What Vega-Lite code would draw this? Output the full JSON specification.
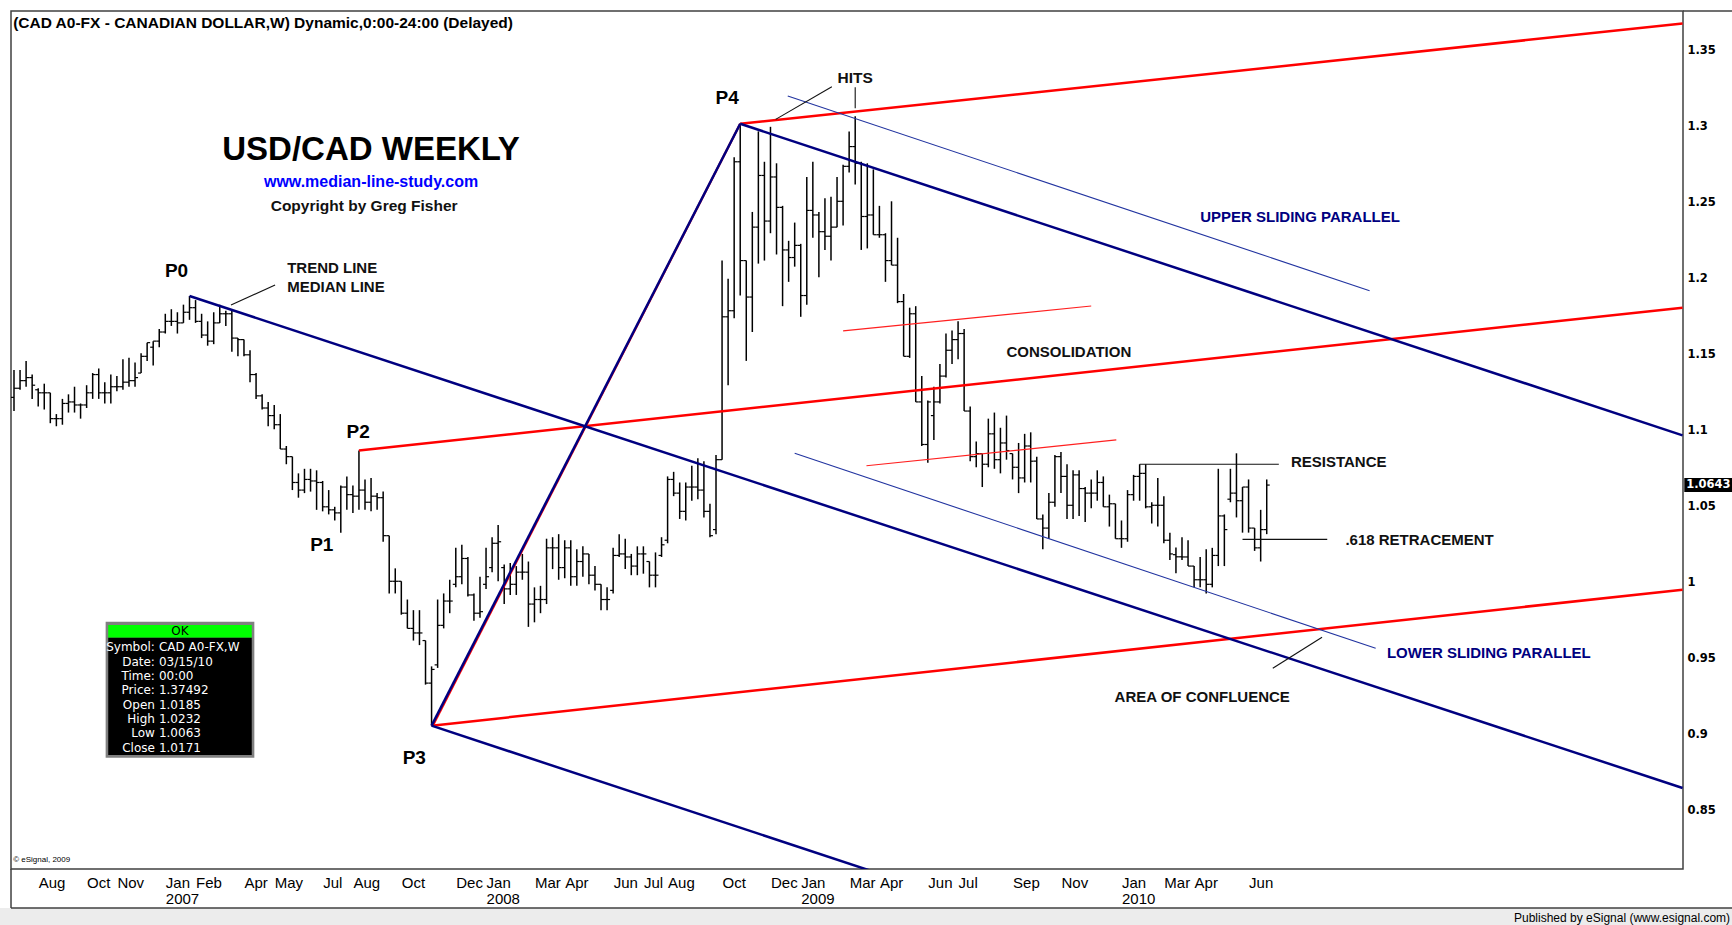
{
"$schema": "https://vega.github.io/schema/vega-lite/v6.json",
"width": 1672,
"height": 858,
"autosize": {"type": "none"},
"padding": {"left": 11, "top": 11, "right": 49, "bottom": 56},
"background": "#ffffff",
"config": {"view": {"stroke": "#404040", "strokeWidth": 1.5}, "font": "Liberation Sans"},
"datasets": {
"bars": [
{"d":"2006-07-10","o":1.122,"h":1.140,"l":1.113,"c":1.128},
{"d":"2006-07-17","o":1.128,"h":1.140,"l":1.127,"c":1.133},
{"d":"2006-07-24","o":1.133,"h":1.146,"l":1.129,"c":1.135},
{"d":"2006-07-31","o":1.135,"h":1.137,"l":1.121,"c":1.130},
{"d":"2006-08-07","o":1.127,"h":1.128,"l":1.116,"c":1.125},
{"d":"2006-08-14","o":1.125,"h":1.131,"l":1.114,"c":1.125},
{"d":"2006-08-21","o":1.125,"h":1.125,"l":1.105,"c":1.108},
{"d":"2006-08-28","o":1.108,"h":1.111,"l":1.103,"c":1.108},
{"d":"2006-09-04","o":1.108,"h":1.121,"l":1.104,"c":1.118},
{"d":"2006-09-11","o":1.118,"h":1.124,"l":1.112,"c":1.119},
{"d":"2006-09-18","o":1.119,"h":1.129,"l":1.112,"c":1.117},
{"d":"2006-09-25","o":1.117,"h":1.118,"l":1.108,"c":1.117},
{"d":"2006-10-02","o":1.117,"h":1.130,"l":1.115,"c":1.125},
{"d":"2006-10-09","o":1.125,"h":1.138,"l":1.121,"c":1.137},
{"d":"2006-10-16","o":1.137,"h":1.141,"l":1.121,"c":1.125},
{"d":"2006-10-23","o":1.125,"h":1.132,"l":1.118,"c":1.125},
{"d":"2006-10-30","o":1.125,"h":1.137,"l":1.118,"c":1.129},
{"d":"2006-11-06","o":1.129,"h":1.136,"l":1.126,"c":1.129},
{"d":"2006-11-13","o":1.129,"h":1.147,"l":1.127,"c":1.132},
{"d":"2006-11-20","o":1.132,"h":1.148,"l":1.129,"c":1.133},
{"d":"2006-11-27","o":1.133,"h":1.145,"l":1.129,"c":1.135},
{"d":"2006-12-04","o":1.138,"h":1.151,"l":1.138,"c":1.149},
{"d":"2006-12-11","o":1.149,"h":1.158,"l":1.146,"c":1.158},
{"d":"2006-12-18","o":1.155,"h":1.159,"l":1.143,"c":1.159},
{"d":"2006-12-25","o":1.159,"h":1.167,"l":1.155,"c":1.165},
{"d":"2007-01-01","o":1.165,"h":1.177,"l":1.164,"c":1.172},
{"d":"2007-01-08","o":1.172,"h":1.180,"l":1.169,"c":1.172},
{"d":"2007-01-15","o":1.172,"h":1.178,"l":1.164,"c":1.171},
{"d":"2007-01-22","o":1.171,"h":1.183,"l":1.171,"c":1.178},
{"d":"2007-01-29","o":1.178,"h":1.1887,"l":1.173,"c":1.181},
{"d":"2007-02-05","o":1.181,"h":1.186,"l":1.171,"c":1.172},
{"d":"2007-02-12","o":1.172,"h":1.177,"l":1.161,"c":1.163},
{"d":"2007-02-19","o":1.163,"h":1.172,"l":1.156,"c":1.159},
{"d":"2007-02-26","o":1.159,"h":1.178,"l":1.157,"c":1.171},
{"d":"2007-03-05","o":1.171,"h":1.183,"l":1.171,"c":1.177},
{"d":"2007-03-12","o":1.177,"h":1.179,"l":1.169,"c":1.177},
{"d":"2007-03-19","o":1.177,"h":1.179,"l":1.152,"c":1.161},
{"d":"2007-03-26","o":1.161,"h":1.161,"l":1.149,"c":1.160},
{"d":"2007-04-02","o":1.160,"h":1.160,"l":1.149,"c":1.150},
{"d":"2007-04-09","o":1.150,"h":1.153,"l":1.132,"c":1.137},
{"d":"2007-04-16","o":1.137,"h":1.138,"l":1.121,"c":1.123},
{"d":"2007-04-23","o":1.123,"h":1.124,"l":1.114,"c":1.115},
{"d":"2007-04-30","o":1.115,"h":1.119,"l":1.103,"c":1.110},
{"d":"2007-05-07","o":1.110,"h":1.117,"l":1.101,"c":1.104},
{"d":"2007-05-14","o":1.104,"h":1.111,"l":1.088,"c":1.088},
{"d":"2007-05-21","o":1.088,"h":1.090,"l":1.078,"c":1.083},
{"d":"2007-05-28","o":1.083,"h":1.083,"l":1.061,"c":1.066},
{"d":"2007-06-04","o":1.066,"h":1.072,"l":1.056,"c":1.061},
{"d":"2007-06-11","o":1.061,"h":1.075,"l":1.059,"c":1.068},
{"d":"2007-06-18","o":1.068,"h":1.075,"l":1.060,"c":1.067},
{"d":"2007-06-25","o":1.067,"h":1.074,"l":1.048,"c":1.066},
{"d":"2007-07-02","o":1.066,"h":1.067,"l":1.047,"c":1.050},
{"d":"2007-07-09","o":1.050,"h":1.061,"l":1.045,"c":1.048},
{"d":"2007-07-16","o":1.048,"h":1.050,"l":1.041,"c":1.046},
{"d":"2007-07-23","o":1.046,"h":1.064,"l":1.033,"c":1.063},
{"d":"2007-07-30","o":1.063,"h":1.070,"l":1.048,"c":1.058},
{"d":"2007-08-06","o":1.058,"h":1.064,"l":1.046,"c":1.057},
{"d":"2007-08-13","o":1.057,"h":1.087,"l":1.048,"c":1.061},
{"d":"2007-08-20","o":1.061,"h":1.068,"l":1.048,"c":1.053},
{"d":"2007-08-27","o":1.053,"h":1.069,"l":1.047,"c":1.057},
{"d":"2007-09-03","o":1.057,"h":1.059,"l":1.048,"c":1.056},
{"d":"2007-09-10","o":1.056,"h":1.060,"l":1.027,"c":1.031},
{"d":"2007-09-17","o":1.031,"h":1.031,"l":0.993,"c":1.001},
{"d":"2007-09-24","o":1.001,"h":1.0095,"l":0.993,"c":1.001},
{"d":"2007-10-01","o":1.001,"h":1.001,"l":0.979,"c":0.980},
{"d":"2007-10-08","o":0.980,"h":0.989,"l":0.970,"c":0.970},
{"d":"2007-10-15","o":0.970,"h":0.982,"l":0.962,"c":0.967},
{"d":"2007-10-22","o":0.967,"h":0.982,"l":0.959,"c":0.967},
{"d":"2007-10-29","o":0.962,"h":0.962,"l":0.933,"c":0.934},
{"d":"2007-11-05","o":0.934,"h":0.945,"l":0.906,"c":0.943},
{"d":"2007-11-12","o":0.946,"h":0.989,"l":0.944,"c":0.972},
{"d":"2007-11-19","o":0.972,"h":0.993,"l":0.970,"c":0.988},
{"d":"2007-11-26","o":0.988,"h":1.002,"l":0.980,"c":0.988},
{"d":"2007-12-03","o":0.999,"h":1.023,"l":0.997,"c":1.004},
{"d":"2007-12-10","o":1.004,"h":1.025,"l":0.999,"c":1.016},
{"d":"2007-12-17","o":1.016,"h":1.017,"l":0.991,"c":0.992},
{"d":"2007-12-24","o":0.992,"h":0.993,"l":0.975,"c":0.980},
{"d":"2007-12-31","o":0.980,"h":1.004,"l":0.977,"c":0.981},
{"d":"2008-01-07","o":0.999,"h":1.023,"l":0.996,"c":1.004},
{"d":"2008-01-14","o":1.010,"h":1.030,"l":1.007,"c":1.026},
{"d":"2008-01-21","o":1.026,"h":1.038,"l":1.001,"c":1.027},
{"d":"2008-01-28","o":1.010,"h":1.012,"l":0.986,"c":0.996},
{"d":"2008-02-04","o":0.996,"h":1.013,"l":0.992,"c":0.999},
{"d":"2008-02-11","o":0.999,"h":1.011,"l":0.992,"c":1.007},
{"d":"2008-02-18","o":1.007,"h":1.019,"l":1.002,"c":1.007},
{"d":"2008-02-25","o":1.007,"h":1.014,"l":0.971,"c":0.986},
{"d":"2008-03-03","o":0.986,"h":0.997,"l":0.974,"c":0.989},
{"d":"2008-03-10","o":0.989,"h":0.998,"l":0.980,"c":0.989},
{"d":"2008-03-17","o":0.989,"h":1.029,"l":0.986,"c":1.023},
{"d":"2008-03-24","o":1.023,"h":1.030,"l":1.009,"c":1.023},
{"d":"2008-03-31","o":1.023,"h":1.032,"l":1.002,"c":1.010},
{"d":"2008-04-07","o":1.010,"h":1.028,"l":1.003,"c":1.023},
{"d":"2008-04-14","o":1.023,"h":1.028,"l":0.998,"c":1.004},
{"d":"2008-04-21","o":1.004,"h":1.022,"l":0.998,"c":1.014},
{"d":"2008-04-28","o":1.014,"h":1.024,"l":1.004,"c":1.019},
{"d":"2008-05-05","o":1.019,"h":1.019,"l":0.999,"c":1.005},
{"d":"2008-05-12","o":1.005,"h":1.011,"l":0.995,"c":0.999},
{"d":"2008-05-19","o":0.999,"h":0.999,"l":0.982,"c":0.989},
{"d":"2008-05-26","o":0.989,"h":0.997,"l":0.982,"c":0.989},
{"d":"2008-06-02","o":0.995,"h":1.023,"l":0.993,"c":1.018},
{"d":"2008-06-09","o":1.018,"h":1.032,"l":1.017,"c":1.019},
{"d":"2008-06-16","o":1.019,"h":1.029,"l":1.009,"c":1.017},
{"d":"2008-06-23","o":1.017,"h":1.019,"l":1.005,"c":1.011},
{"d":"2008-06-30","o":1.011,"h":1.024,"l":1.005,"c":1.019},
{"d":"2008-07-07","o":1.019,"h":1.024,"l":1.006,"c":1.019},
{"d":"2008-07-14","o":1.014,"h":1.014,"l":0.997,"c":1.005},
{"d":"2008-07-21","o":1.005,"h":1.020,"l":0.997,"c":1.005},
{"d":"2008-07-28","o":1.018,"h":1.030,"l":1.017,"c":1.025},
{"d":"2008-08-04","o":1.028,"h":1.070,"l":1.026,"c":1.068},
{"d":"2008-08-11","o":1.068,"h":1.073,"l":1.057,"c":1.059},
{"d":"2008-08-18","o":1.059,"h":1.066,"l":1.042,"c":1.047},
{"d":"2008-08-25","o":1.047,"h":1.066,"l":1.041,"c":1.063},
{"d":"2008-09-01","o":1.063,"h":1.077,"l":1.054,"c":1.063},
{"d":"2008-09-08","o":1.063,"h":1.082,"l":1.055,"c":1.061},
{"d":"2008-09-15","o":1.061,"h":1.080,"l":1.043,"c":1.047},
{"d":"2008-09-22","o":1.047,"h":1.052,"l":1.030,"c":1.031},
{"d":"2008-09-29","o":1.035,"h":1.084,"l":1.032,"c":1.081},
{"d":"2008-10-06","o":1.081,"h":1.212,"l":1.081,"c":1.175},
{"d":"2008-10-13","o":1.175,"h":1.200,"l":1.130,"c":1.179},
{"d":"2008-10-20","o":1.179,"h":1.280,"l":1.174,"c":1.277},
{"d":"2008-10-27","o":1.277,"h":1.302,"l":1.189,"c":1.212},
{"d":"2008-11-03","o":1.212,"h":1.212,"l":1.146,"c":1.188},
{"d":"2008-11-10","o":1.188,"h":1.244,"l":1.165,"c":1.234},
{"d":"2008-11-17","o":1.234,"h":1.297,"l":1.210,"c":1.268},
{"d":"2008-11-24","o":1.268,"h":1.277,"l":1.212,"c":1.238},
{"d":"2008-12-01","o":1.238,"h":1.300,"l":1.230,"c":1.267},
{"d":"2008-12-08","o":1.267,"h":1.276,"l":1.216,"c":1.247},
{"d":"2008-12-15","o":1.247,"h":1.248,"l":1.182,"c":1.219},
{"d":"2008-12-22","o":1.219,"h":1.225,"l":1.198,"c":1.214},
{"d":"2008-12-29","o":1.214,"h":1.237,"l":1.208,"c":1.222},
{"d":"2009-01-05","o":1.222,"h":1.223,"l":1.175,"c":1.189},
{"d":"2009-01-12","o":1.189,"h":1.267,"l":1.183,"c":1.245},
{"d":"2009-01-19","o":1.245,"h":1.277,"l":1.227,"c":1.242},
{"d":"2009-01-26","o":1.242,"h":1.244,"l":1.201,"c":1.231},
{"d":"2009-02-02","o":1.231,"h":1.253,"l":1.219,"c":1.228},
{"d":"2009-02-09","o":1.228,"h":1.254,"l":1.212,"c":1.234},
{"d":"2009-02-16","o":1.234,"h":1.267,"l":1.234,"c":1.251},
{"d":"2009-02-23","o":1.251,"h":1.275,"l":1.235,"c":1.274},
{"d":"2009-03-02","o":1.274,"h":1.297,"l":1.270,"c":1.287},
{"d":"2009-03-09","o":1.287,"h":1.307,"l":1.262,"c":1.276},
{"d":"2009-03-16","o":1.276,"h":1.277,"l":1.219,"c":1.241},
{"d":"2009-03-23","o":1.241,"h":1.276,"l":1.220,"c":1.242},
{"d":"2009-03-30","o":1.242,"h":1.272,"l":1.229,"c":1.229},
{"d":"2009-04-06","o":1.229,"h":1.248,"l":1.227,"c":1.229},
{"d":"2009-04-13","o":1.229,"h":1.230,"l":1.198,"c":1.212},
{"d":"2009-04-20","o":1.212,"h":1.251,"l":1.209,"c":1.209},
{"d":"2009-04-27","o":1.209,"h":1.227,"l":1.184,"c":1.185},
{"d":"2009-05-04","o":1.185,"h":1.190,"l":1.149,"c":1.149},
{"d":"2009-05-11","o":1.149,"h":1.181,"l":1.148,"c":1.177},
{"d":"2009-05-18","o":1.177,"h":1.182,"l":1.119,"c":1.119},
{"d":"2009-05-25","o":1.119,"h":1.136,"l":1.090,"c":1.091},
{"d":"2009-06-01","o":1.091,"h":1.120,"l":1.079,"c":1.119},
{"d":"2009-06-08","o":1.110,"h":1.129,"l":1.094,"c":1.119},
{"d":"2009-06-15","o":1.119,"h":1.144,"l":1.118,"c":1.136},
{"d":"2009-06-22","o":1.136,"h":1.164,"l":1.135,"c":1.153},
{"d":"2009-06-29","o":1.153,"h":1.166,"l":1.144,"c":1.160},
{"d":"2009-07-06","o":1.160,"h":1.172,"l":1.147,"c":1.164},
{"d":"2009-07-13","o":1.164,"h":1.167,"l":1.113,"c":1.113},
{"d":"2009-07-20","o":1.113,"h":1.116,"l":1.080,"c":1.083},
{"d":"2009-07-27","o":1.083,"h":1.093,"l":1.076,"c":1.085},
{"d":"2009-08-03","o":1.085,"h":1.085,"l":1.063,"c":1.078},
{"d":"2009-08-10","o":1.078,"h":1.108,"l":1.076,"c":1.098},
{"d":"2009-08-17","o":1.098,"h":1.112,"l":1.075,"c":1.081},
{"d":"2009-08-24","o":1.081,"h":1.102,"l":1.072,"c":1.092},
{"d":"2009-08-31","o":1.092,"h":1.110,"l":1.081,"c":1.087},
{"d":"2009-09-07","o":1.085,"h":1.085,"l":1.068,"c":1.076},
{"d":"2009-09-14","o":1.076,"h":1.092,"l":1.059,"c":1.069},
{"d":"2009-09-21","o":1.069,"h":1.098,"l":1.066,"c":1.090},
{"d":"2009-09-28","o":1.090,"h":1.099,"l":1.066,"c":1.080},
{"d":"2009-10-05","o":1.080,"h":1.083,"l":1.042,"c":1.042},
{"d":"2009-10-12","o":1.042,"h":1.045,"l":1.022,"c":1.036},
{"d":"2009-10-19","o":1.036,"h":1.059,"l":1.029,"c":1.053},
{"d":"2009-10-26","o":1.053,"h":1.084,"l":1.050,"c":1.083},
{"d":"2009-11-02","o":1.083,"h":1.086,"l":1.059,"c":1.070},
{"d":"2009-11-09","o":1.070,"h":1.078,"l":1.042,"c":1.051},
{"d":"2009-11-16","o":1.051,"h":1.074,"l":1.042,"c":1.071},
{"d":"2009-11-23","o":1.071,"h":1.074,"l":1.044,"c":1.062},
{"d":"2009-11-30","o":1.062,"h":1.063,"l":1.040,"c":1.059},
{"d":"2009-12-07","o":1.059,"h":1.068,"l":1.049,"c":1.059},
{"d":"2009-12-14","o":1.059,"h":1.074,"l":1.054,"c":1.066},
{"d":"2009-12-21","o":1.066,"h":1.070,"l":1.050,"c":1.050},
{"d":"2009-12-28","o":1.050,"h":1.058,"l":1.037,"c":1.052},
{"d":"2010-01-04","o":1.052,"h":1.052,"l":1.029,"c":1.029},
{"d":"2010-01-11","o":1.029,"h":1.041,"l":1.023,"c":1.029},
{"d":"2010-01-18","o":1.029,"h":1.061,"l":1.027,"c":1.058},
{"d":"2010-01-25","o":1.058,"h":1.071,"l":1.054,"c":1.070},
{"d":"2010-02-01","o":1.070,"h":1.078,"l":1.054,"c":1.072},
{"d":"2010-02-08","o":1.072,"h":1.078,"l":1.049,"c":1.050},
{"d":"2010-02-15","o":1.050,"h":1.053,"l":1.039,"c":1.051},
{"d":"2010-02-22","o":1.051,"h":1.069,"l":1.037,"c":1.051},
{"d":"2010-03-01","o":1.051,"h":1.057,"l":1.026,"c":1.028},
{"d":"2010-03-08","o":1.028,"h":1.033,"l":1.015,"c":1.019},
{"d":"2010-03-15","o":1.0185,"h":1.0232,"l":1.0063,"c":1.0171},
{"d":"2010-03-22","o":1.0171,"h":1.030,"l":1.015,"c":1.017},
{"d":"2010-03-29","o":1.017,"h":1.028,"l":1.011,"c":1.011},
{"d":"2010-04-05","o":1.011,"h":1.011,"l":0.997,"c":1.002},
{"d":"2010-04-12","o":1.002,"h":1.017,"l":0.997,"c":1.002},
{"d":"2010-04-19","o":1.002,"h":1.022,"l":0.993,"c":0.999},
{"d":"2010-04-26","o":0.999,"h":1.023,"l":0.997,"c":1.018},
{"d":"2010-05-03","o":1.018,"h":1.075,"l":1.011,"c":1.044},
{"d":"2010-05-10","o":1.044,"h":1.045,"l":1.011,"c":1.035},
{"d":"2010-05-17","o":1.055,"h":1.075,"l":1.053,"c":1.059},
{"d":"2010-05-24","o":1.059,"h":1.0852,"l":1.043,"c":1.054},
{"d":"2010-05-31","o":1.054,"h":1.063,"l":1.033,"c":1.063},
{"d":"2010-06-07","o":1.063,"h":1.068,"l":1.033,"c":1.036},
{"d":"2010-06-14","o":1.036,"h":1.036,"l":1.021,"c":1.023},
{"d":"2010-06-21","o":1.023,"h":1.048,"l":1.014,"c":1.035},
{"d":"2010-06-28","o":1.035,"h":1.068,"l":1.032,"c":1.0643}
],
"lines": [
{"t":"rp","d":"2007-11-05","p":0.906,"d2":"2008-10-27","p2":1.302},
{"t":"rd","d":"2007-08-13","p":1.087,"d2":"2011-10-22","p2":1.181},
{"t":"rd","d":"2008-10-27","p":1.302,"d2":"2011-10-22","p2":1.368},
{"t":"rd","d":"2007-11-05","p":0.906,"d2":"2011-10-22","p2":0.9955},
{"t":"nv","d":"2007-01-29","p":1.1887,"d2":"2011-10-22","p2":0.865},
{"t":"nv","d":"2008-10-27","p":1.302,"d2":"2011-10-22","p2":1.097},
{"t":"nv","d":"2007-11-05","p":0.906,"d2":"2011-10-22","p2":0.634},
{"t":"nv","d":"2007-11-05","p":0.906,"d2":"2008-10-27","p2":1.302},
{"t":"rt","d":"2009-02-23","p":1.1657,"d2":"2009-12-07","p2":1.1821},
{"t":"rt","d":"2009-03-22","p":1.077,"d2":"2010-01-05","p2":1.094},
{"t":"bt","d":"2008-12-21","p":1.3203,"d2":"2010-10-25","p2":1.1922},
{"t":"bt","d":"2008-12-29","p":1.0852,"d2":"2010-11-01","p2":0.9569},
{"t":"bk","d":"2010-02-01","p":1.078,"d2":"2010-07-12","p2":1.078},
{"t":"bk","d":"2010-05-31","p":1.0286,"d2":"2010-09-06","p2":1.0286},
{"t":"bk","d":"2007-03-18","p":1.1828,"d2":"2007-05-08","p2":1.1959},
{"t":"bk","d":"2008-12-07","p":1.3049,"d2":"2009-02-10","p2":1.3264},
{"t":"bk","d":"2009-03-09","p":1.3122,"d2":"2009-03-09","p2":1.326},
{"t":"bk","d":"2010-07-05","p":0.94375,"d2":"2010-08-31","p2":0.96414}
],
"deco": [
{"k":"strip","d":"2006-06-01","d2":"2012-01-01","p":0.78605,"p2":0.75},
{"k":"frame","d":"2006-07-06T13:00:00Z","d2":"2012-01-01","p":0.78605,"p2":0.78605},
{"k":"frame","d":"2006-07-06T13:00:00Z","d2":"2006-07-06T13:00:00Z","p":0.8117,"p2":0.78605},
{"k":"frame","d":"2011-10-22T12:00:00Z","d2":"2012-01-01","p":1.3762,"p2":1.3762},
{"k":"boxgray","d":"2006-10-24","d2":"2007-04-14","p":0.97441,"p2":0.88493},
{"k":"boxgreen","d":"2006-10-27","d2":"2007-04-11","p":0.97224,"p2":0.96388},
{"k":"boxblack","d":"2006-10-27","d2":"2007-04-11","p":0.96388,"p2":0.88671},
{"k":"tag","d":"2011-10-24","d2":"2012-01-01","p":1.0689,"p2":1.0597}
],
"labels": [
{"g":"hdr","d":"2006-07-09","p":1.3681,"txt":"(CAD A0-FX - CANADIAN DOLLAR,W) Dynamic,0:00-24:00 (Delayed)"},
{"g":"big","d":"2007-08-27","p":1.2847,"txt":"USD/CAD WEEKLY"},
{"g":"url","d":"2007-08-27","p":1.2637,"txt":"www.median-line-study.com"},
{"g":"cen","d":"2007-08-19","p":1.2479,"txt":"Copyright by Greg Fisher"},
{"g":"pt","d":"2007-01-14","p":1.2051,"txt":"P0"},
{"g":"pt","d":"2007-07-01","p":1.0251,"txt":"P1"},
{"g":"pt","d":"2007-08-12","p":1.0994,"txt":"P2"},
{"g":"pt","d":"2007-10-16","p":0.8849,"txt":"P3"},
{"g":"pt","d":"2008-10-12","p":1.3191,"txt":"P4"},
{"g":"cen","d":"2009-03-09","p":1.3323,"txt":"HITS"},
{"g":"left","d":"2007-05-22","p":1.2071,"txt":"TREND LINE"},
{"g":"left","d":"2007-05-22","p":1.1946,"txt":"MEDIAN LINE"},
{"g":"left","d":"2009-08-31","p":1.152,"txt":"CONSOLIDATION"},
{"g":"left","d":"2010-07-26","p":1.0797,"txt":"RESISTANCE"},
{"g":"left","d":"2010-09-27","p":1.0282,"txt":".618 RETRACEMENT"},
{"g":"left","d":"2010-01-03","p":0.9251,"txt":"AREA OF CONFLUENCE"},
{"g":"navy","d":"2010-04-12","p":1.2405,"txt":"UPPER SLIDING PARALLEL"},
{"g":"navy","d":"2010-11-14","p":0.954,"txt":"LOWER SLIDING PARALLEL"},
{"g":"small","d":"2006-07-09","p":0.8173,"txt":"© eSignal, 2009"},
{"g":"pub","d":"2011-12-16","p":0.7795,"txt":"Published by eSignal (www.esignal.com)"},
{"g":"ok","d":"2007-01-18","p":0.96829,"txt":"OK"},
{"g":"tag","d":"2011-10-25","p":1.0643,"txt":"1.0643"}
],
"info": [
{"d":"2006-12-20","p":0.95757,"k":"Symbol:","v":"CAD A0-FX,W"},
{"d":"2006-12-20","p":0.94809,"k":"Date:","v":"03/15/10"},
{"d":"2006-12-20","p":0.93868,"k":"Time:","v":"00:00"},
{"d":"2006-12-20","p":0.92928,"k":"Price:","v":"1.37492"},
{"d":"2006-12-20","p":0.91961,"k":"Open","v":"1.0185"},
{"d":"2006-12-20","p":0.9102,"k":"High","v":"1.0232"},
{"d":"2006-12-20","p":0.90099,"k":"Low","v":"1.0063"},
{"d":"2006-12-20","p":0.89112,"k":"Close","v":"1.0171"}
]
},
"encoding": {
 "x": {"field": "d", "type": "temporal",
  "scale": {"type": "utc", "domain": [1152189792000, 1319284800000]},
  "axis": {"title": null, "orient": "bottom",
   "values": [1154908800000, 1159747200000, 1162771200000, 1167609600000, 1170633600000, 1175472000000, 1178496000000, 1183334400000, 1186358400000, 1191196800000, 1196640000000, 1199664000000, 1204502400000, 1207526400000, 1212364800000, 1215388800000, 1217808000000, 1223251200000, 1228089600000, 1231113600000, 1235952000000, 1238976000000, 1243814400000, 1246838400000, 1252281600000, 1257120000000, 1263168000000, 1267401600000, 1270425600000, 1275868800000],
   "labelExpr": "utcmonth(datum.value) == 0 ? [utcFormat(datum.value, '%b'), utcFormat(datum.value, '%Y')] : utcFormat(datum.value, '%b')",
   "labelAlign": "left", "labelBaseline": "top", "labelPadding": 6,
   "labelFont": "Liberation Sans Narrow, Liberation Sans", "labelFontSize": 15, "labelLineHeight": 16, "labelColor": "#000000",
   "labelOverlap": false, "labelBound": false, "labelFlush": false,
   "ticks": false, "domain": false, "grid": false}},
 "y": {"field": "p", "type": "quantitative",
  "scale": {"domain": [0.8117, 1.3762], "nice": false, "zero": false},
  "axis": {"title": null, "orient": "right", "values": [0.85, 0.9, 0.95, 1, 1.05, 1.1, 1.15, 1.2, 1.25, 1.3, 1.35],
   "format": ".2~f",
   "labelFont": "DejaVu Sans", "labelFontWeight": "bold", "labelFontSize": 11.5, "labelColor": "#000000", "labelPadding": 4,
   "ticks": false, "domain": false, "grid": false}}
},
"layer": [
{"data": {"name": "deco", "format": {"parse": {"d": "date", "d2": "date"}}},
 "encoding": {"x2": {"field": "d2"}, "y2": {"field": "p2"}},
 "layer": [
  {"transform": [{"filter": "datum.k == 'strip'"}], "mark": {"type": "rect", "color": "#ececec"}},
  {"transform": [{"filter": "datum.k == 'frame'"}], "mark": {"type": "rule", "color": "#404040", "strokeWidth": 1.5}},
  {"transform": [{"filter": "datum.k == 'boxgray'"}], "mark": {"type": "rect", "color": "#808080"}},
  {"transform": [{"filter": "datum.k == 'boxgreen'"}], "mark": {"type": "rect", "color": "#00ff00"}},
  {"transform": [{"filter": "datum.k == 'boxblack'"}], "mark": {"type": "rect", "color": "#000000"}},
  {"transform": [{"filter": "datum.k == 'tag'"}], "mark": {"type": "rect", "color": "#000000"}}
 ]},
{"data": {"name": "bars"},
 "layer": [
  {"mark": {"type": "rule", "color": "#000000", "strokeWidth": 1.5},
   "encoding": {
    "y": {"field": "l", "type": "quantitative", "scale": {"domain": [0.8117, 1.3762], "nice": false, "zero": false},
     "axis": {"title": null, "orient": "right", "values": [0.85, 0.9, 0.95, 1, 1.05, 1.1, 1.15, 1.2, 1.25, 1.3, 1.35],
      "format": ".2~f", "labelFont": "DejaVu Sans", "labelFontWeight": "bold", "labelFontSize": 11.5, "labelColor": "#000000", "labelPadding": 4,
      "ticks": false, "domain": false, "grid": false}},
    "y2": {"field": "h"}}},
  {"mark": {"type": "tick", "orient": "horizontal", "color": "#000000", "opacity": 1, "size": 3, "thickness": 1.2, "xOffset": -1.5},
   "encoding": {
    "y": {"field": "o", "type": "quantitative", "scale": {"domain": [0.8117, 1.3762], "nice": false, "zero": false},
     "axis": {"title": null, "orient": "right", "values": [0.85, 0.9, 0.95, 1, 1.05, 1.1, 1.15, 1.2, 1.25, 1.3, 1.35],
      "format": ".2~f", "labelFont": "DejaVu Sans", "labelFontWeight": "bold", "labelFontSize": 11.5, "labelColor": "#000000", "labelPadding": 4,
      "ticks": false, "domain": false, "grid": false}}}},
  {"mark": {"type": "tick", "orient": "horizontal", "color": "#000000", "opacity": 1, "size": 3, "thickness": 1.2, "xOffset": 1.5},
   "encoding": {
    "y": {"field": "c", "type": "quantitative", "scale": {"domain": [0.8117, 1.3762], "nice": false, "zero": false},
     "axis": {"title": null, "orient": "right", "values": [0.85, 0.9, 0.95, 1, 1.05, 1.1, 1.15, 1.2, 1.25, 1.3, 1.35],
      "format": ".2~f", "labelFont": "DejaVu Sans", "labelFontWeight": "bold", "labelFontSize": 11.5, "labelColor": "#000000", "labelPadding": 4,
      "ticks": false, "domain": false, "grid": false}}}}
 ]},
{"data": {"name": "lines", "format": {"parse": {"d": "date", "d2": "date"}}},
 "encoding": {"x2": {"field": "d2"}, "y2": {"field": "p2"}},
 "layer": [
  {"transform": [{"filter": "datum.t == 'rp'"}], "mark": {"type": "rule", "color": "#ff0000", "strokeWidth": 2.2, "xOffset": 1.2, "clip": true}},
  {"transform": [{"filter": "datum.t == 'rd'"}], "mark": {"type": "rule", "color": "#ff0000", "strokeWidth": 2.5, "clip": true}},
  {"transform": [{"filter": "datum.t == 'nv'"}], "mark": {"type": "rule", "color": "#000080", "strokeWidth": 2.5, "clip": true}},
  {"transform": [{"filter": "datum.t == 'rt'"}], "mark": {"type": "rule", "color": "#ff2020", "strokeWidth": 1.2, "clip": true}},
  {"transform": [{"filter": "datum.t == 'bt'"}], "mark": {"type": "rule", "color": "#2234a0", "strokeWidth": 1.1, "clip": true}},
  {"transform": [{"filter": "datum.t == 'bk'"}], "mark": {"type": "rule", "color": "#111111", "strokeWidth": 1.1, "clip": true}}
 ]},
{"data": {"name": "labels"},
 "encoding": {"text": {"field": "txt"}},
 "layer": [
  {"transform": [{"filter": "datum.g == 'hdr'"}], "mark": {"type": "text", "align": "left", "baseline": "middle", "font": "Liberation Sans", "fontWeight": "bold", "fontSize": 15.5, "color": "#000000"}},
  {"transform": [{"filter": "datum.g == 'big'"}], "mark": {"type": "text", "align": "center", "baseline": "middle", "font": "Liberation Sans", "fontWeight": "bold", "fontSize": 33, "color": "#000000"}},
  {"transform": [{"filter": "datum.g == 'url'"}], "mark": {"type": "text", "align": "center", "baseline": "middle", "font": "Liberation Sans", "fontWeight": "bold", "fontSize": 16, "color": "#0000ff"}},
  {"transform": [{"filter": "datum.g == 'cen'"}], "mark": {"type": "text", "align": "center", "baseline": "middle", "font": "Liberation Sans", "fontWeight": "bold", "fontSize": 15.5, "color": "#111111"}},
  {"transform": [{"filter": "datum.g == 'pt'"}], "mark": {"type": "text", "align": "center", "baseline": "middle", "font": "Liberation Sans", "fontWeight": "bold", "fontSize": 19, "color": "#000000"}},
  {"transform": [{"filter": "datum.g == 'left'"}], "mark": {"type": "text", "align": "left", "baseline": "middle", "font": "Liberation Sans", "fontWeight": "bold", "fontSize": 15, "color": "#111111"}},
  {"transform": [{"filter": "datum.g == 'navy'"}], "mark": {"type": "text", "align": "left", "baseline": "middle", "font": "Liberation Sans", "fontWeight": "bold", "fontSize": 15, "color": "#000080"}},
  {"transform": [{"filter": "datum.g == 'small'"}], "mark": {"type": "text", "align": "left", "baseline": "middle", "font": "Liberation Sans", "fontSize": 8, "color": "#000000"}},
  {"transform": [{"filter": "datum.g == 'pub'"}], "mark": {"type": "text", "align": "right", "baseline": "middle", "font": "Liberation Sans Narrow, Liberation Sans", "fontSize": 12, "color": "#000000"}},
  {"transform": [{"filter": "datum.g == 'ok'"}], "mark": {"type": "text", "align": "center", "baseline": "middle", "font": "DejaVu Sans", "fontSize": 12, "color": "#000000"}},
  {"transform": [{"filter": "datum.g == 'tag'"}], "mark": {"type": "text", "align": "left", "baseline": "middle", "font": "DejaVu Sans", "fontWeight": "bold", "fontSize": 11.5, "color": "#ffffff", "dx": 1}}
 ]},
{"data": {"name": "info"},
 "layer": [
  {"mark": {"type": "text", "align": "right", "baseline": "middle", "font": "DejaVu Sans", "fontSize": 12, "color": "#ffffff"}, "encoding": {"text": {"field": "k"}}},
  {"mark": {"type": "text", "align": "left", "baseline": "middle", "font": "DejaVu Sans", "fontSize": 12, "color": "#ffffff", "dx": 4}, "encoding": {"text": {"field": "v"}}}
 ]}
]
}
